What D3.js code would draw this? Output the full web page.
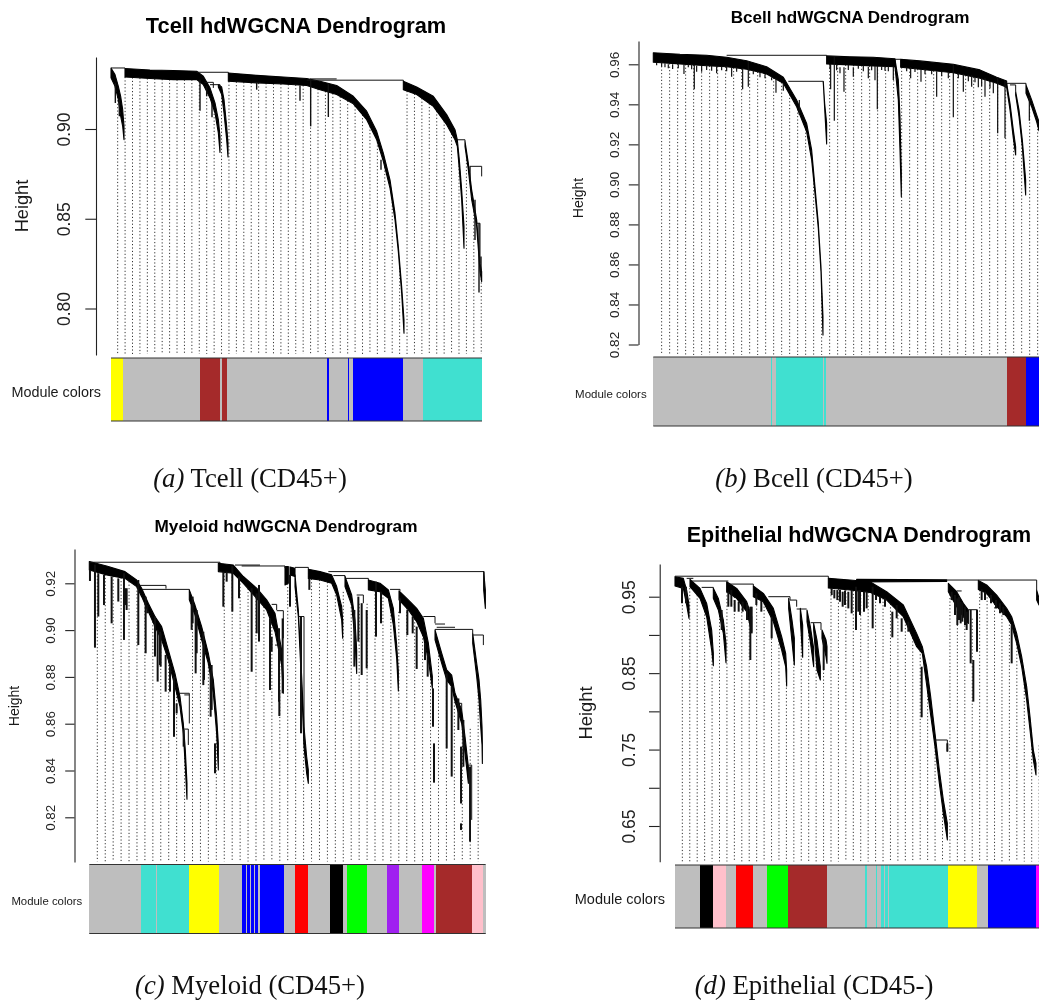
<!DOCTYPE html>
<html>
<head>
<meta charset="utf-8">
<title>hdWGCNA dendrograms</title>
<script src="https://cdn.jsdelivr.net/npm/d3@7"></script>
<style>
  html, body { margin: 0; background: #fff; overflow: hidden; }
  svg { display: block; filter: blur(.35px); }
  text { font-family: "Liberation Sans", Arial, sans-serif; fill: #1a1a1a; }
  .caption { font-family: "Liberation Serif", "Times New Roman", serif; fill: #111; }
  .guide { stroke: #333; stroke-width: 1; stroke-dasharray: 1.2 2.2; fill: none; }
  .arm { fill: #000; stroke: #000; stroke-width: 1.1; stroke-linejoin: round; }
  .spike { stroke: #111; }
  .link { fill: none; stroke: #111; stroke-width: 1; }
</style>
</head>
<body>
<svg id="chart" width="1039" height="1001"></svg>
<script>
// arms: [gene rank, upper height, lower height], spikes: [gene rank, top, bottom], links: [gene rank, height] polylines
const tcellTicks = [0.80, 0.85, 0.90];
const tcellArms = [
  [[0,.9340,.9285],[12,.9303,.9238],[22,.9238,.9164],[29,.9182,.9071],[35,.9108,.9015],[39,.9015,.8940]],
  [[42,.9337,.9290],[117,.9329,.9281],[187,.9326,.9275],[257,.9322,.9275],[277,.9294,.9247],[297,.9229,.9173],[312,.9145,.9089],[322,.9052,.8978],[327,.8959,.8870]],
  [[322,.9247,.9234],[332,.9234,.9192],[339,.9164,.9089],[347,.9015,.8940],[351,.8922,.8844]],
  [[352,.9312,.9266],[437,.9299,.9257],[517,.9290,.9251],[587,.9281,.9242],[627,.9266,.9219],[677,.9242,.9192],[727,.9182,.9140],[767,.9099,.9052],[797,.8987,.8940],[817,.8866,.8820],[837,.8717,.8671],[852,.8531,.8494],[862,.8345,.8317],[872,.8122,.8085],[879,.7936,.7862]],
  [[877,.9266,.9219],[917,.9234,.9192],[967,.9182,.9126],[1007,.9080,.9024],[1032,.8996,.8940],[1039,.8940,.8903],[1045,.8829,.8773],[1052,.8661,.8606],[1059,.8457,.8336]],
  [[1062,.8931,.8903],[1072,.8810,.8773],[1082,.8661,.8606],[1097,.8494,.8457],[1107,.8252,.8206],[1112,.8206,.8150]]
];
const tcellSpikes = [[13,.9257,.9145],[25,.9164,.9071],[267,.9275,.9102],[287,.9238,.9182],[303,.9145,.9065],[437,.9257,.9219],[567,.9242,.9158],[599,.9275,.9015],[652,.9251,.9067],[810,.8829,.8773],[1077,.8792,.8717],[1092,.8606,.8382],[1104,.8475,.8089],[1110,.8289,.8206]];
const tcellLinks = [
  [[0,.9340],[42,.9340],[42,.9337]],
  [[257,.9316],[352,.9316],[352,.9312]],
  [[587,.9272],[877,.9272],[877,.9266]],
  [[597,.9279],[677,.9279]],
  [[280,.9260],[307,.9260],[307,.9229]],
  [[297,.9247],[327,.9247],[327,.9234]],
  [[1037,.8940],[1062,.8940],[1062,.8931]],
  [[1077,.8792],[1112,.8792],[1112,.8736]],
  [[1097,.8475],[1107,.8475],[1107,.8252]]
];
const tcellModules = ['yellow','grey','brown','grey','brown','grey','blue','grey','blue','grey','blue','grey','turquoise'];
const tcellModuleEnds = [37,267,327,333,348,648,654,710,714,727,876,937,1113];

const bcellTicks = [0.82, 0.84, 0.86, 0.88, 0.90, 0.92, 0.94, 0.96];
const bcellArms = [
  [[0,.9658,.9610],[80,.9650,.9602],[160,.9645,.9593],[220,.9635,.9588],[280,.9618,.9575],[340,.9588,.9552],[390,.9535,.9505],[430,.9422,.9388],[460,.9305,.9263],[475,.9172,.9122],[485,.8988,.8955],[495,.8805,.8780],[503,.8588,.8563],[509,.8338,.8247]],
  [[510,.9513,.9505],[514,.9405,.9380],[520,.9305,.9202]],
  [[520,.9642,.9602],[590,.9638,.9597],[660,.9635,.9592],[725,.9628,.9588]],
  [[725,.9625,.9588],[735,.9522,.9422],[740,.9338,.9172],[744,.9055,.8938]],
  [[742,.9625,.9585],[800,.9617,.9575],[900,.9600,.9558],[980,.9572,.9530],[1030,.9535,.9505],[1060,.9517,.9485]],
  [[1060,.9505,.9485],[1070,.9405,.9372],[1080,.9272,.9230],[1087,.9188,.9147]],
  [[1087,.9463,.9447],[1097,.9372,.9338],[1107,.9222,.9188],[1117,.9022,.8947]],
  [[1118,.9497,.9455],[1135,.9422,.9388],[1150,.9347,.9313],[1157,.9313,.9268]]
];
const bcellSpikes = [[25,.9605,.9588],[45,.9600,.9580],[58,.9600,.9577],[75,.9600,.9580],[92,.9600,.9552],[123,.9597,.9475],[130,.9593,.9563],[145,.9593,.9563],[160,.9593,.9572],[175,.9593,.9568],[190,.9593,.9555],[235,.9588,.9538],[250,.9585,.9563],[268,.9580,.9475],[285,.9617,.9488],[320,.9563,.9535],[368,.9530,.9458],[390,.9505,.9468],[438,.9422,.9347],
  [10,.9608,.9595],[35,.9605,.9585],[105,.9600,.9585],[115,.9600,.9575],[205,.9590,.9570],[220,.9588,.9565],[300,.9570,.9550],[335,.9550,.9530],[355,.9535,.9520],
  [532,.9602,.9475],[543,.9642,.9318],[560,.9585,.9555],[572,.9585,.9463],[600,.9585,.9538],[645,.9588,.9530],[672,.9592,.9375],[695,.9590,.9568],[720,.9588,.9522],
  [530,.9602,.9575],[550,.9600,.9570],[585,.9597,.9572],[615,.9597,.9578],[630,.9595,.9565],[655,.9592,.9570],[665,.9592,.9520],[685,.9590,.9572],[705,.9590,.9565],
  [772,.9585,.9530],[803,.9575,.9513],[850,.9565,.9438],[900,.9600,.9335],[930,.9550,.9463],[955,.9545,.9488],[975,.9535,.9485],[995,.9530,.9438],[1020,.9510,.9455],[1033,.9535,.9255],[1055,.9517,.9230],[1128,.9438,.9318],
  [760,.9583,.9565],[785,.9580,.9562],[815,.9573,.9550],[835,.9570,.9550],[865,.9563,.9540],[885,.9560,.9530],[915,.9555,.9530],[945,.9548,.9515],[965,.9537,.9510],[985,.9530,.9490],[1010,.9515,.9480]];
const bcellLinks = [
  [[220,.9645],[520,.9645],[520,.9642]],
  [[405,.9515],[510,.9515],[510,.9505]],
  [[725,.9625],[742,.9625]],
  [[1060,.9505],[1118,.9505],[1118,.9497]],
  [[1070,.9497],[1087,.9497],[1087,.9463]]
];
const bcellModules = ['grey','turquoise','grey','turquoise','grey','turquoise','grey','brown','blue'];
const bcellModuleEnds = [353,356,368,510,513,518,1060,1117,1157];

const myeloidTicks = [0.82, 0.84, 0.86, 0.88, 0.90, 0.92];
const myeloidArms = [
  [[0,.9293,.9257],[52,.9274,.9236],[107,.9250,.9221],[142,.9214,.9186],[157,.9179,.9143],[177,.9115,.9079],[197,.9058,.9015],[217,.9015,.8958],[237,.8915,.8872],[257,.8815,.8758],[272,.8716,.8673],[282,.8601,.8558],[288,.8487,.8416],[293,.8345,.8277]],
  [[300,.9172,.9129],[317,.9107,.9065],[337,.9015,.8958],[357,.8901,.8858],[372,.8787,.8730],[382,.8630,.8558],[387,.8516,.8402]],
  [[387,.9286,.9250],[432,.9278,.9243],[462,.9229,.9200],[502,.9179,.9136],[532,.9129,.9086],[557,.9072,.8993],[577,.8915,.8851],[582,.8801,.8730]],
  [[587,.9272,.9193],[597,.9272,.9200]],
  [[602,.9270,.9236],[617,.9264,.9229]],
  [[617,.9236,.9186],[627,.9086,.9058],[637,.8801,.8758],[644,.8587,.8502],[652,.8459,.8388],[657,.8402,.8345]],
  [[657,.9260,.9221],[692,.9250,.9214],[727,.9236,.9200],[742,.9186,.9150],[757,.9100,.9043],[760,.9043,.8965]],
  [[1183,.9250,.9170],[1188,.9170,.9093]],
  [[767,.9229,.9186],[787,.9150,.9107],[797,.9043,.8958],[802,.8915,.8815]],
  [[837,.9214,.9172],[872,.9200,.9164],[897,.9172,.9136],[912,.9093,.9022],[922,.8936,.8879],[927,.8822,.8740]],
  [[929,.9168,.9129],[957,.9129,.9086],[982,.9093,.9036],[1002,.9050,.8972],[1017,.8944,.8872],[1029,.8801,.8751]],
  [[1037,.9001,.8958],[1057,.8901,.8858],[1072,.8830,.8787],[1087,.8808,.8758],[1097,.8730,.8694],[1117,.8659,.8601],[1127,.8544,.8473],[1137,.8416,.8345]],
  [[1150,.8986,.8944],[1162,.8858,.8801],[1169,.8787,.8701],[1174,.8701,.8587],[1178,.8587,.8509],[1179,.8516,.8430]]
];
const myeloidSpikes = [[2,.9257,.9210],[17,.9280,.8925],[27,.9243,.9058],[44,.9236,.9107],[67,.9229,.9029],[87,.9221,.9122],[104,.9243,.8958],[107,.9179,.9107],[112,.9179,.9086],[147,.9214,.8936],[169,.9143,.8901],[174,.9107,.9072],[197,.9058,.8887],[205,.9001,.8780],[212,.8993,.8851],[214,.8986,.8844],[229,.8894,.8737],[242,.8844,.8737],[254,.8801,.8544],[262,.8687,.8644],[283,.8573,.8502],
  [307,.9107,.9001],[310,.9143,.9029],[319,.9079,.8815],[322,.9086,.8901],[342,.8993,.8765],[344,.8944,.8787],[364,.8830,.8630],[367,.8851,.8659],[377,.8516,.8388],
  [402,.9250,.9100],[412,.9250,.9207],[429,.9274,.9079],[449,.9229,.9136],[487,.9179,.8822],[502,.9157,.8986],[509,.9193,.8951],[542,.9050,.8744],[569,.9008,.8694],[570,.8744,.8633],[580,.9050,.8730],[547,.8972,.8908],
  [602,.9236,.9100],[635,.9058,.8559],[660,.9221,.9172],[795,.9086,.8844],[807,.9143,.8951],[817,.9115,.8808],[832,.9086,.8837],[860,.9207,.8972],[875,.9164,.9029],
  [932,.9136,.9072],[954,.9086,.8979],[970,.9058,.8986],[982,.9015,.8834],[1007,.8944,.8872],[1015,.8901,.8801],[1031,.8751,.8587],[1034,.8516,.8348],
  [1072,.8815,.8494],[1087,.8758,.8374],[1107,.8708,.8573],[1115,.8502,.8259],[1115,.8174,.8146],[1122,.8616,.8416],[1142,.8416,.8096]];
const myeloidLinks = [
  [[0,.9290],[392,.9290],[392,.9285]],
  [[272,.8730],[300,.8730],[300,.8601]],
  [[285,.8723],[300,.8723]],
  [[282,.8577],[297,.8577],[297,.8509]],
  [[152,.9191],[230,.9191],[230,.9177]],
  [[157,.9174],[300,.9174],[300,.9172]],
  [[547,.9110],[562,.9110],[562,.9086]],
  [[562,.9083],[582,.9083],[582,.8965]],
  [[557,.8936],[574,.8936],[574,.8872]],
  [[437,.9278],[512,.9278]],
  [[457,.9274],[587,.9274],[587,.9265]],
  [[627,.9058],[644,.9058],[644,.8516]],
  [[617,.9268],[657,.9268],[657,.9260]],
  [[717,.9250],[1184,.9250],[1184,.9176]],
  [[732,.9233],[767,.9233],[767,.9226]],
  [[767,.9221],[837,.9221],[837,.9214]],
  [[802,.9150],[822,.9150],[822,.9115]],
  [[902,.9174],[932,.9174],[932,.9168]],
  [[1002,.9058],[1037,.9058],[1037,.9029]],
  [[1037,.9026],[1067,.9026]],
  [[1042,.9012],[1097,.9012]],
  [[1037,.9003],[1150,.9003],[1150,.8986]],
  [[1097,.8687],[1117,.8687],[1117,.8659]],
  [[1137,.8423],[1147,.8423],[1147,.8189]],
  [[1150,.8979],[1182,.8979],[1182,.8936]]
];
const myeloidModules = ['grey','turquoise','grey','turquoise','yellow','grey','blue','grey','blue','grey','blue','grey','blue','grey','blue','grey','red','grey','black','grey','green','grey','purple','grey','magenta','grey','brown','pink','grey'];
const myeloidModuleEnds = [156,200,203,299,388,457,470,473,482,484,494,497,505,511,584,616,656,721,761,773,834,893,929,998,1034,1039,1149,1182,1189];

const epithelialTicks = [0.65, 0.70, 0.75, 0.80, 0.85, 0.90, 0.95];
const epithelialTickLabels = [0.65, 0.75, 0.85, 0.95];
const epithelialArms = [
  [[0,.9762,.9640],[25,.9740,.9609],[35,.9587,.9391],[42,.9391,.9217]],
  [[45,.9727,.9631],[75,.9609,.9478],[95,.9413,.9238],[110,.9064,.8802],[115,.8759,.8597]],
  [[115,.9609,.9478],[130,.9478,.9326],[145,.9195,.9020],[153,.8890,.8636]],
  [[155,.9696,.9565],[185,.9609,.9478],[215,.9435,.9304],[230,.9238,.9042]],
  [[235,.9640,.9500],[265,.9544,.9435],[295,.9347,.9173],[320,.8977,.8802],[332,.8759,.8584],[335,.8541,.8332]],
  [[341,.9478,.9347],[351,.9195,.8911],[358,.8955,.8606]],
  [[376,.9347,.9195],[383,.9129,.8707]],
  [[396,.9326,.9173],[406,.9108,.8911],[416,.8824,.8584]],
  [[416,.9151,.9064],[426,.8933,.8541],[436,.8584,.8410]],
  [[441,.9064,.8955],[453,.8933,.8715],[456,.8846,.8628]],
  [[460,.9740,.9613],[525,.9718,.9587],[585,.9696,.9557],[635,.9565,.9456],[685,.9391,.9238],[725,.9020,.8846],[742,.8846,.8759],[755,.8584,.8345],[767,.8192,.7952],[780,.7712,.7538],[793,.7233,.7059],[805,.6841,.6666],[817,.6536,.6317]],
  [[545,.9727,.9692],[815,.9722,.9700]],
  [[820,.9674,.9565],[845,.9565,.9369],[865,.9413,.9238],[880,.9326,.9151]],
  [[910,.9713,.9594],[935,.9653,.9544],[965,.9522,.9369],[995,.9347,.9238],[1010,.9238,.9129],[1025,.9020,.8890],[1040,.8715,.8584],[1055,.8323,.8149],[1065,.7931,.7756],[1075,.7494,.7364],[1083,.7320,.7168]],
  [[1085,.9587,.9456],[1092,.9478,.9391]]
];
const epithelialSpikes = [[21,.9631,.9413],[33,.9631,.9413],[140,.9326,.9064],[160,.9565,.9369],[169,.9587,.9369],[179,.9456,.9304],[191,.9435,.9304],[203,.9435,.9304],[216,.9413,.9195],[226,.9369,.8672],[230,.9369,.9020],[244,.9544,.9391],[259,.9456,.9304],[290,.9239,.8955],[446,.8955,.8541],
  [470,.9613,.9522],[478,.9590,.9478],[487,.9587,.9456],[495,.9590,.9435],[503,.9565,.9369],[510,.9580,.9391],[520,.9565,.9347],[530,.9590,.9282],[543,.9631,.9064],[550,.9580,.9304],[555,.9587,.9260],[567,.9565,.9304],[575,.9565,.9347],[593,.9631,.9086],[603,.9522,.9456],[615,.9500,.9413],[630,.9478,.9369],[652,.9304,.8968],[665,.9391,.9217],[680,.9217,.9042],[700,.9173,.9042],[740,.8584,.7922],[817,.7582,.7473],
  [830,.9565,.9456],[840,.9522,.9260],[847,.9478,.9129],[852,.9500,.9195],[857,.9435,.9151],[862,.9413,.9173],[870,.9369,.9129],[875,.9304,.9064],[887,.9326,.8628],[895,.8672,.8127],[906,.9326,.8781],[920,.9594,.9456],[930,.9565,.9456],[948,.9522,.9413],[963,.9456,.9347],[975,.9413,.9282],[985,.9369,.9260],[1010,.9129,.8628]];
const epithelialLinks = [
  [[0,.9768],[460,.9768],[460,.9740]],
  [[35,.9740],[55,.9740]],
  [[50,.9705],[160,.9705]],
  [[80,.9622],[115,.9622],[115,.9609]],
  [[160,.9665],[235,.9665],[235,.9640]],
  [[280,.9500],[345,.9500],[345,.9456]],
  [[345,.9456],[365,.9456],[365,.9369]],
  [[365,.9339],[395,.9339]],
  [[407,.9160],[438,.9160],[438,.9064]],
  [[782,.7625],[817,.7625],[817,.7473]],
  [[815,.9718],[1085,.9718],[1085,.9587]],
  [[845,.9575],[860,.9575]],
  [[880,.9330],[907,.9330],[907,.9282]]
];
const epithelialModules = ['grey','black','pink','grey','red','grey','green','brown','grey','turquoise','grey','turquoise','grey','turquoise','grey','turquoise','grey','turquoise','yellow','grey','blue','magenta'];
const epithelialModuleEnds = [75,115,153,183,233,277,339,456,571,576,602,607,619,627,630,640,643,818,907,940,1082,1092];

const moduleColors = {
  grey: '#bebebe', yellow: '#ffff00', brown: '#a52a2a', blue: '#0000ff', turquoise: '#40e0d0',
  pink: '#ffc0cb', red: '#ff0000', green: '#00ff00', black: '#000000', purple: '#a020f0', magenta: '#ff00ff'
};

const panels = [
  {
    title: 'Tcell hdWGCNA Dendrogram', caption: ['(a)', ' Tcell (CD45+)'],
    ticks: tcellTicks, labelled: tcellTicks, arms: tcellArms, spikes: tcellSpikes, links: tcellLinks,
    modules: tcellModules, moduleEnds: tcellModuleEnds, genes: 1113, guideFirst: 20, guideStep: 22.26,
    xRange: [111, 482], anchor: [[0.80, 308.5], [0.90, 129]], axisX: 96, axisSpan: [355, 57], guideBottom: 354,
    bar: [358, 421], tickLen: 10.7, tickSize: 17.5, tickBase: 26, spikeWidth: 1.4,
    titleFont: 21.8, titleAt: [296, 33], heightFont: 18.2, heightAt: [28, 206],
    moduleFont: 14.4, moduleAt: [101, 396.5], captionAt: [250, 487]
  },
  {
    title: 'Bcell hdWGCNA Dendrogram', caption: ['(b)', ' Bcell (CD45+)'],
    ticks: bcellTicks, labelled: bcellTicks, arms: bcellArms, spikes: bcellSpikes, links: bcellLinks,
    modules: bcellModules, moduleEnds: bcellModuleEnds, genes: 1157, guideFirst: 25, guideStep: 24,
    xRange: [653.3, 1039], anchor: [[0.82, 344.5], [0.96, 64.3]], axisX: 638.5, axisSpan: [344.5, 41], guideBottom: 355,
    bar: [357, 426], tickLen: 9.7, tickSize: 13.5, tickBase: 20, spikeWidth: 1.2,
    titleFont: 17.1, titleAt: [850, 23], heightFont: 14, heightAt: [583, 198],
    moduleFont: 11.5, moduleAt: [646.7, 398], captionAt: [814, 487]
  },
  {
    title: 'Myeloid hdWGCNA Dendrogram', caption: ['(c)', ' Myeloid (CD45+)'],
    ticks: myeloidTicks, labelled: myeloidTicks, arms: myeloidArms, spikes: myeloidSpikes, links: myeloidLinks,
    modules: myeloidModules, moduleEnds: myeloidModuleEnds, genes: 1189, guideFirst: 24, guideStep: 23.8,
    xRange: [89.3, 485.7], anchor: [[0.82, 817.3], [0.92, 583.3]], axisX: 74.5, axisSpan: [862, 549], guideBottom: 861.5,
    bar: [864.5, 933.5], tickLen: 9.3, tickSize: 13.4, tickBase: 20, spikeWidth: 2,
    titleFont: 17.2, titleAt: [286, 532], heightFont: 14, heightAt: [19, 706],
    moduleFont: 11.4, moduleAt: [82.3, 905], captionAt: [250, 994]
  },
  {
    title: 'Epithelial hdWGCNA Dendrogram', caption: ['(d)', ' Epithelial (CD45-)'],
    ticks: epithelialTicks, labelled: epithelialTickLabels, arms: epithelialArms, spikes: epithelialSpikes, links: epithelialLinks,
    modules: epithelialModules, moduleEnds: epithelialModuleEnds, genes: 1092, guideFirst: 22, guideStep: 22.3,
    xRange: [675, 1039], anchor: [[0.65, 826], [0.95, 596.7]], axisX: 659.7, axisSpan: [861.7, 564], guideBottom: 861.5,
    bar: [865, 928], tickLen: 10.7, tickSize: 17.5, tickBase: 25, spikeWidth: 2,
    titleFont: 21.5, titleAt: [859, 541.5], heightFont: 18.4, heightAt: [592, 713],
    moduleFont: 14.5, moduleAt: [665, 904], captionAt: [814, 994]
  }
];

const svg = d3.select('#chart');

// height of the lowest arm edge over a gene rank, that is where a guide starts to hang
function guideTop(arms, rank) {
  let top = null;
  arms.forEach(arm => {
    if (rank < arm[0][0] || rank > arm[arm.length - 1][0]) return;
    const low = d3.scaleLinear().domain(arm.map(d => d[0])).range(arm.map(d => d[2]))(rank);
    if (top === null || low < top) top = low;
  });
  return top;
}

panels.forEach(p => {
  const g = svg.append('g');
  const x = d3.scaleLinear().domain([0, p.genes]).range(p.xRange);
  const y = d3.scaleLinear().domain(p.anchor.map(d => d[0])).range(p.anchor.map(d => d[1]));

  // dotted guides
  let lastTop = y.invert(p.guideBottom);
  const guides = d3.range(p.guideFirst, p.genes + 1, p.guideStep).map(rank => {
    const top = guideTop(p.arms, rank);
    if (top !== null) lastTop = top;
    return [rank, lastTop];
  });
  g.selectAll('.guide').data(guides).join('line')
    .attr('class', 'guide')
    .attr('x1', d => x(d[0])).attr('x2', d => x(d[0]))
    .attr('y1', d => y(d[1])).attr('y2', p.guideBottom);

  // dendrogram
  const area = d3.area().x(d => x(d[0])).y0(d => y(d[2])).y1(d => y(d[1]));
  g.selectAll('.arm').data(p.arms).join('path').attr('class', 'arm').attr('d', area);
  g.selectAll('.spike').data(p.spikes).join('line')
    .attr('class', 'spike')
    .attr('stroke-width', p.spikeWidth)
    .attr('x1', d => x(d[0])).attr('x2', d => x(d[0]))
    .attr('y1', d => y(d[1])).attr('y2', d => y(d[2]));
  const line = d3.line().x(d => x(d[0])).y(d => y(d[1]));
  g.selectAll('.link').data(p.links).join('path').attr('class', 'link').attr('d', line);

  // y axis, rotated labels like base R
  const axisScale = y.copy().domain(p.axisSpan.map(v => y.invert(v))).range(p.axisSpan);
  const axis = g.append('g')
    .attr('transform', `translate(${p.axisX},0)`)
    .call(d3.axisLeft(axisScale).tickValues(p.ticks).tickSize(p.tickLen).tickSizeOuter(0)
      .tickFormat(v => p.labelled.includes(v) ? d3.format('.2f')(v) : ''));
  axis.selectAll('.domain, .tick line').attr('stroke', '#222').attr('stroke-width', 1.1);
  axis.selectAll('.tick text')
    .attr('transform', 'rotate(-90)')
    .attr('x', 0).attr('y', -p.tickBase).attr('dy', 0)
    .attr('text-anchor', 'middle')
    .style('font-family', '"Liberation Sans", Arial, sans-serif')
    .style('font-size', p.tickSize + 'px')
    .style('fill', '#222');

  // module colour strip
  g.selectAll('.module').data(p.modules).join('rect')
    .attr('class', 'module')
    .attr('x', (d, i) => x(i ? p.moduleEnds[i - 1] : 0))
    .attr('width', (d, i) => x(p.moduleEnds[i]) - x(i ? p.moduleEnds[i - 1] : 0))
    .attr('y', p.bar[0]).attr('height', p.bar[1] - p.bar[0])
    .attr('fill', d => moduleColors[d])
    .attr('shape-rendering', 'crispEdges');
  g.selectAll('.edge').data(p.bar).join('line')
    .attr('class', 'edge')
    .attr('x1', p.xRange[0]).attr('x2', p.xRange[1])
    .attr('y1', d => d).attr('y2', d => d)
    .attr('stroke', '#333').attr('stroke-width', 1);

  g.append('text').text(p.title)
    .attr('x', p.titleAt[0]).attr('y', p.titleAt[1])
    .attr('text-anchor', 'middle').attr('font-weight', 'bold').attr('font-size', p.titleFont).style('fill', '#000');
  g.append('text').text('Height')
    .attr('transform', `translate(${p.heightAt[0]},${p.heightAt[1]}) rotate(-90)`)
    .attr('text-anchor', 'middle').attr('font-size', p.heightFont);
  g.append('text').text('Module colors')
    .attr('x', p.moduleAt[0]).attr('y', p.moduleAt[1])
    .attr('text-anchor', 'end').attr('font-size', p.moduleFont);

  const cap = g.append('text').attr('class', 'caption')
    .attr('x', p.captionAt[0]).attr('y', p.captionAt[1])
    .attr('text-anchor', 'middle').attr('font-size', 26.7);
  cap.append('tspan').attr('font-style', 'italic').text(p.caption[0]);
  cap.append('tspan').attr('xml:space', 'preserve').text(p.caption[1]);
});
</script>
</body>
</html>
